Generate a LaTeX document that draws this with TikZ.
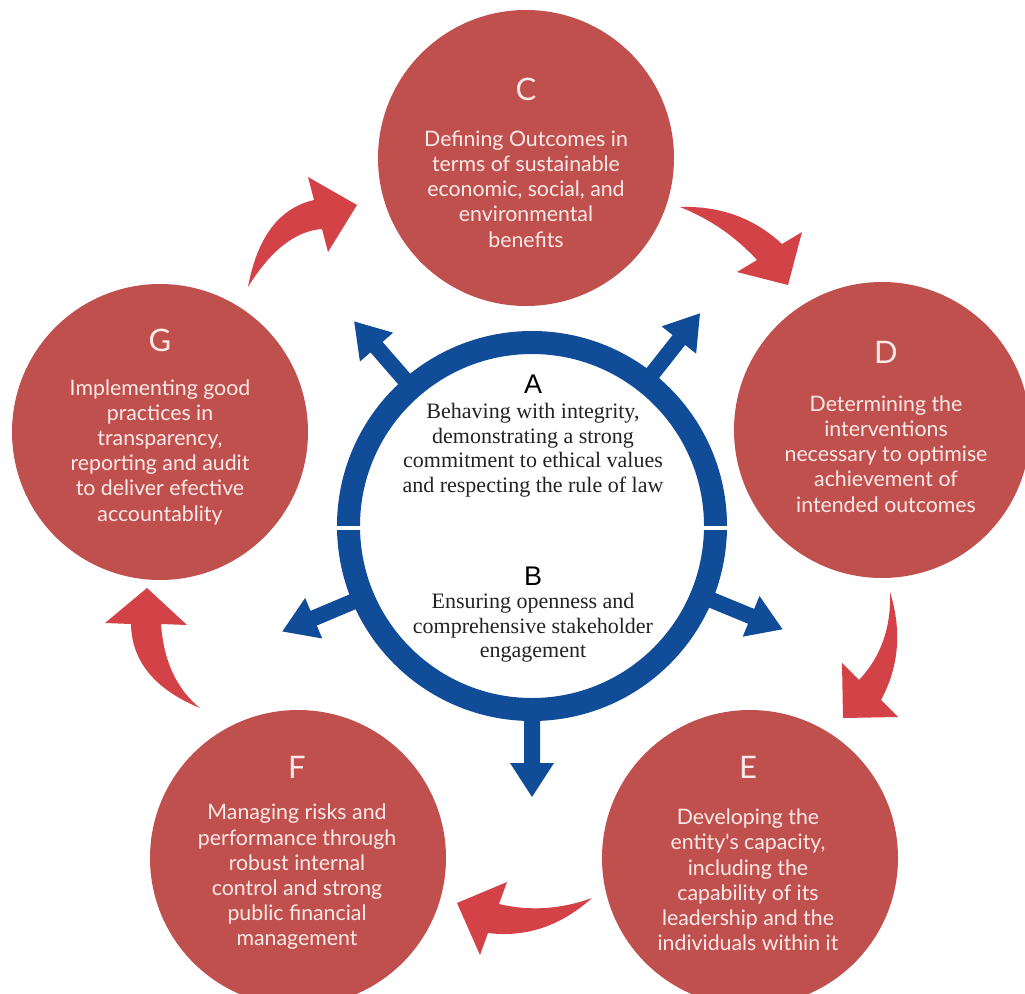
\documentclass[tikz,border=0pt]{standalone}
\usepackage{fontspec}
\setmainfont{Liberation Serif}
\newfontfamily\circfont{Lato}
\newfontfamily\letterfont{Liberation Sans}
\usetikzlibrary{calc}
\definecolor{circred}{RGB}{192,80,77}
\definecolor{arrred}{RGB}{210,66,70}
\definecolor{ringblue}{RGB}{16,76,152}
\definecolor{circtext}{RGB}{252,234,232}
\definecolor{ctext}{RGB}{35,35,35}
\begin{document}
\begin{tikzpicture}[x=1pt,y=-1pt,
  redcirc/.style={circle, fill=circred, draw=none, minimum size=296pt, inner sep=0pt},
  circletter/.style={font=\circfont\fontsize{31}{31}\selectfont, text=circtext, inner sep=0pt},
  circbody/.style={font=\circfont\fontsize{21.3}{25.2}\selectfont, text=circtext, align=center, inner sep=0pt},
  ringletter/.style={font=\letterfont\fontsize{27}{27}\selectfont, text=black, inner sep=0pt},
  ringbody/.style={font=\fontsize{22}{24.5}\selectfont, text=ctext, align=center, inner sep=0pt},
  redarrow/.style={fill=arrred, draw=none},
  bluearrow/.style={fill=ringblue, draw=none}
]
\useasboundingbox (0,0) rectangle (1025,993);
\clip (0,0) rectangle (1025,993);

% red circles
\node[redcirc] (C) at (526,158) {};
\node[redcirc] (D) at (882,430) {};
\node[redcirc] (E) at (750,858) {};
\node[redcirc] (F) at (298,858) {};
\node[redcirc] (G) at (160,432) {};

\node[circletter] (Cl) at (526,89) {C};
\node[circbody] (Ct) at (526,189) {Defining Outcomes in\\terms of sustainable\\economic, social, and\\environmental\\benefits};
\node[circletter] (Dl) at (886,352) {D};
\node[circbody] (Dt) at (886,454) {Determining the\\interventions\\necessary to optimise\\achievement of\\intended outcomes};
\node[circletter] (El) at (748,767) {E};
\node[circbody] (Et) at (748,880) {Developing the\\entity's capacity,\\including the\\capability of its\\leadership and the\\individuals within it};
\node[circletter] (Fl) at (297,767) {F};
\node[circbody] (Ft) at (297,877) {Managing risks and\\performance through\\robust internal\\control and strong\\public financial\\management};
\node[circletter] (Gl) at (160,340) {G};
\node[circbody] (Gt) at (160,452) {Implementing good\\practices in\\transparency,\\reporting and audit\\to deliver efective\\accountablity};

% red curved arrows
\fill[redarrow] (248,287) .. controls (257.3,237) and (279.3,208) .. (314,200) -- (308,177) -- (357,205) -- (328,252) -- (322,229) .. controls (295.3,231) and (270.7,250.3) .. (248,287) -- cycle;
\fill[redarrow] (680,207) .. controls (720,205.7) and (754,218) .. (782,244) -- (802,232) -- (788,285) -- (737,272) -- (757,260) .. controls (735.7,236.7) and (710,219) .. (680,207) -- cycle;
\fill[redarrow] (890,592) .. controls (902,630.7) and (899,666.7) .. (881,700) -- (898,717) -- (843,718) -- (842,663) -- (859,680) .. controls (881,656.7) and (891.3,627.3) .. (890,592) -- cycle;
\fill[redarrow] (592,898) .. controls (560.7,926) and (526,937.7) .. (488,933) -- (480,955) -- (457,903) -- (507,882) -- (499,904) .. controls (529.7,911.3) and (560.7,909.3) .. (592,898) -- cycle;
\fill[redarrow] (200,708) .. controls (154.7,689.3) and (131.7,661.3) .. (131,624) -- (105,623) -- (147,588) -- (187,625) -- (161,624) .. controls (163.7,661.3) and (176.7,689.3) .. (200,708) -- cycle;

% blue ring with arrows
\coordinate (O) at (532,526);
\foreach \a in {131,51.7,-22.4,-90,202.9} {
  \begin{scope}[shift={(O)}, rotate=\a]
    \fill[bluearrow] (180,-8) -- (237,-8) -- (237,-22) -- (271,0) -- (237,22) -- (237,8) -- (180,8) -- cycle;
  \end{scope}
}
\node[circle, draw=ringblue, line width=23pt, minimum size=367pt, inner sep=0pt, fill=white] (ring) at (O) {};
\fill[white] (320,526) rectangle (745,530);

\node[ringletter] (Al) at (533,384) {A};
\node[ringbody] (At) at (533,450) {Behaving with integrity,\\demonstrating a strong\\commitment to ethical values\\and respecting the rule of law};
\node[ringletter] (Bl) at (533,576) {B};
\node[ringbody] (Bt) at (533,628) {Ensuring openness and\\comprehensive stakeholder\\engagement};
\end{tikzpicture}
\end{document}
